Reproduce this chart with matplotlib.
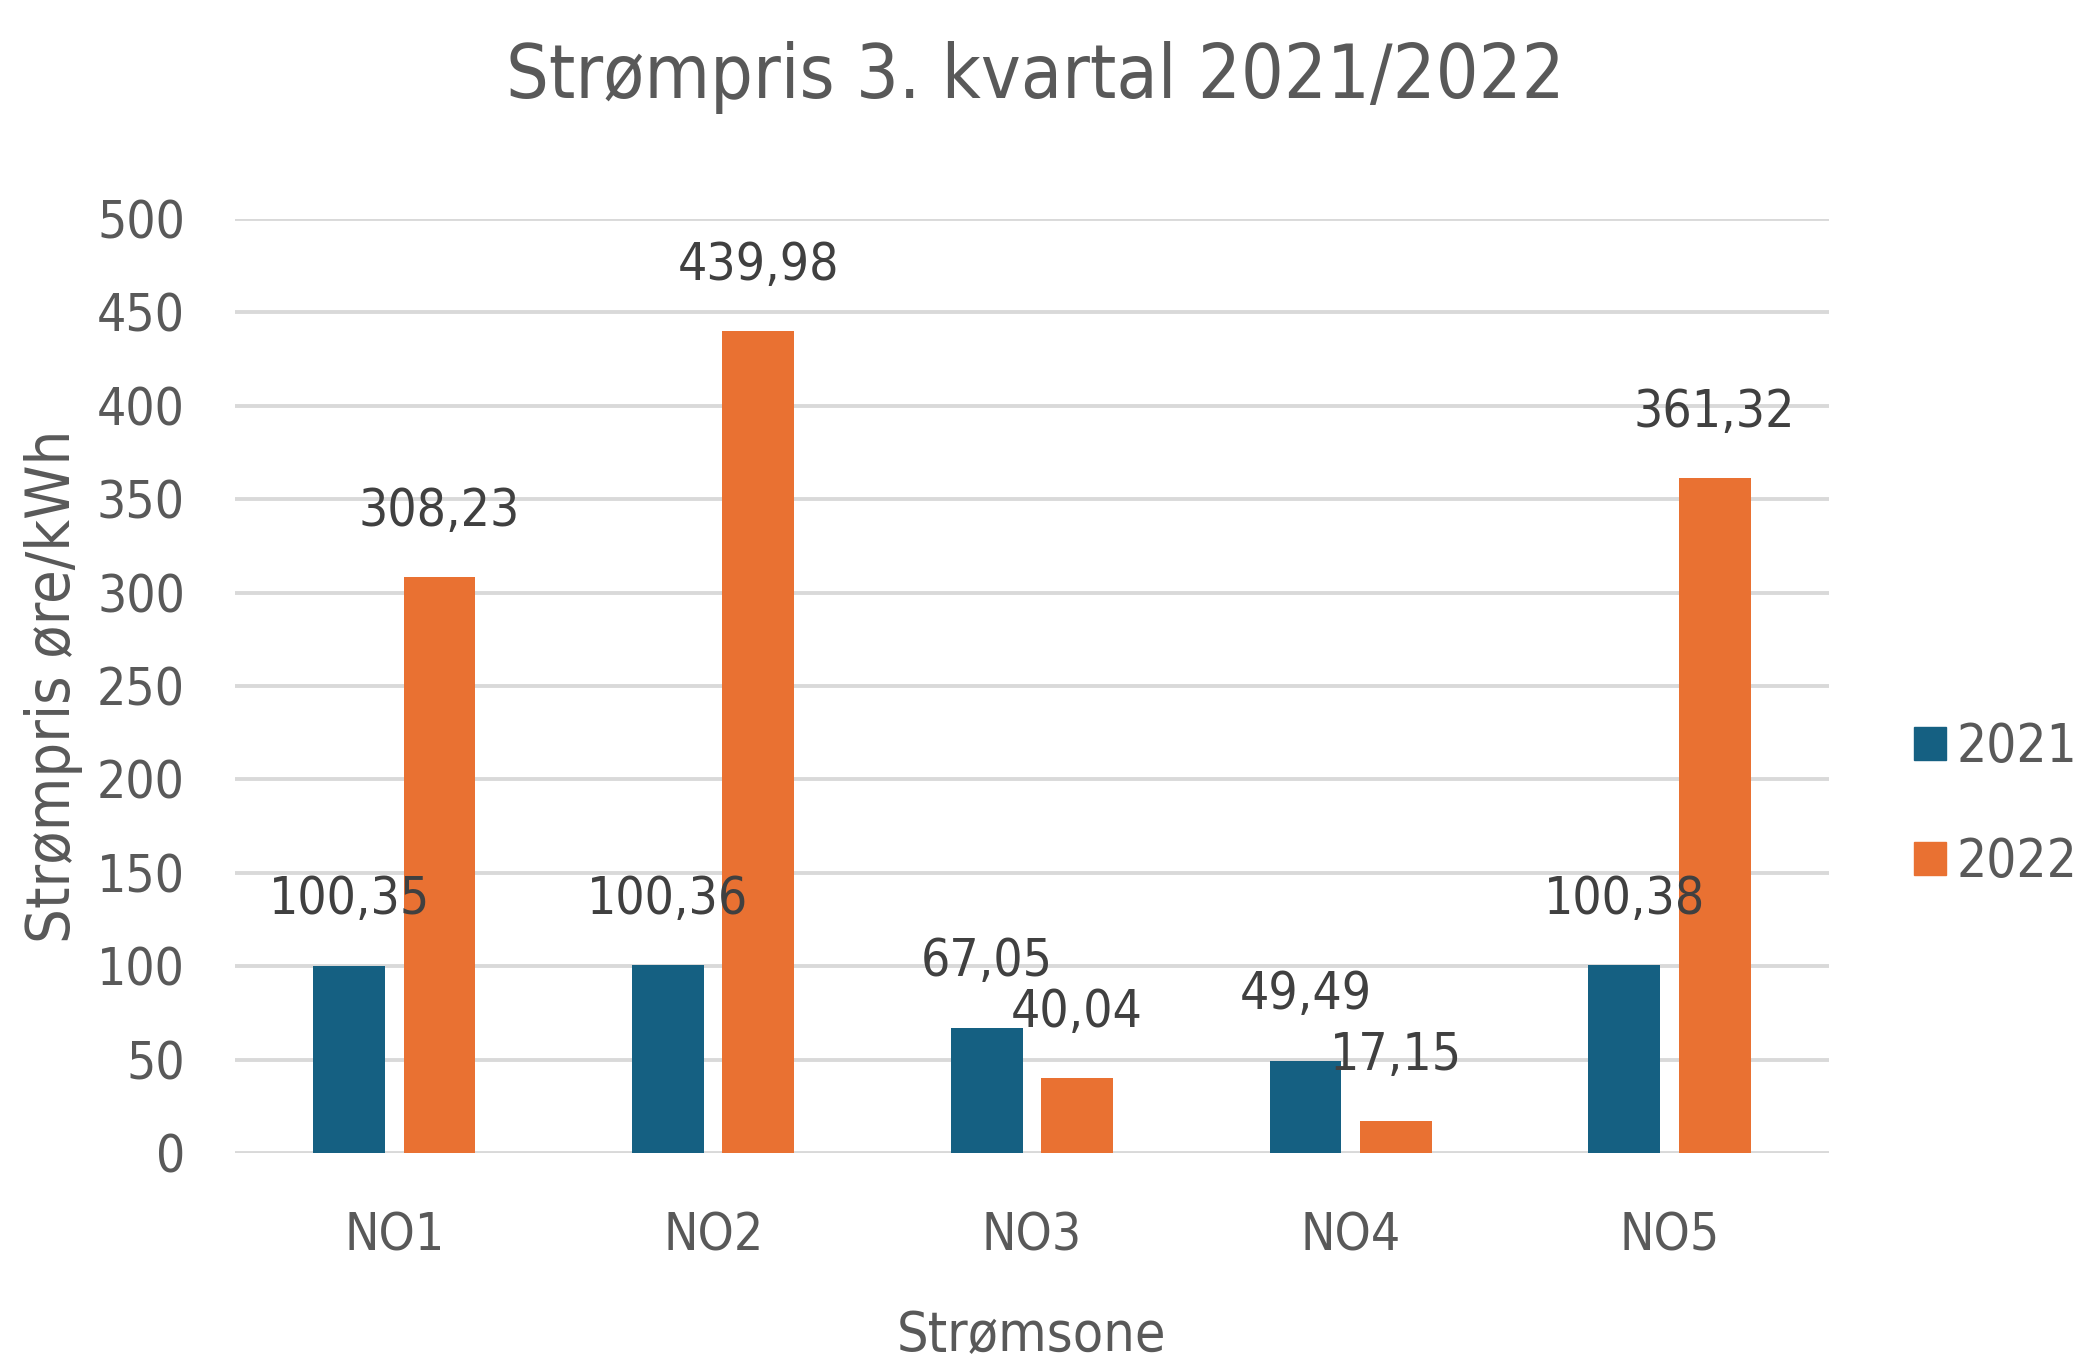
import matplotlib
matplotlib.use("Agg")
import matplotlib.pyplot as plt
import numpy as np
from matplotlib import font_manager
from matplotlib.patches import Patch

# pick the narrowest sans we have
fonts = font_manager.fontManager.ttflist
names = {f.name for f in fonts}
stretch = 'normal'
if 'Liberation Sans Narrow' in names:
    fam = 'Liberation Sans Narrow'
elif any(f.name == 'DejaVu Sans' and f.stretch == 'condensed' for f in fonts):
    fam = 'DejaVu Sans'
    stretch = 'condensed'
else:
    fam = 'Liberation Sans'
plt.rcParams['font.family'] = [fam, 'DejaVu Sans']
plt.rcParams['font.stretch'] = stretch

# ---- data ----
zones = ['NO1', 'NO2', 'NO3', 'NO4', 'NO5']
price_2021 = [100.35, 100.36, 67.05, 49.49, 100.38]
price_2022 = [308.23, 439.98, 40.04, 17.15, 361.32]
series_labels = ['2021', '2022']
colors = ['#156082', '#E97132']
text_col = '#595959'

fig = plt.figure(figsize=(20.83, 13.59), dpi=100)
ax = fig.add_axes([0.1128, 0.1516, 0.7652, 0.6873])

x = np.arange(len(zones))
w = 0.225
off = 0.1417
b1 = ax.bar(x - off, price_2021, w, color=colors[0], zorder=3)
b2 = ax.bar(x + off, price_2022, w, color=colors[1], zorder=3)

def fmt(v):
    return f"{v:.2f}".replace('.', ',')

for bars, vals in ((b1, price_2021), (b2, price_2022)):
    for r, v in zip(bars, vals):
        ax.annotate(fmt(v), (r.get_x() + r.get_width() / 2, v),
                    xytext=(0, 47), textcoords='offset points',
                    ha='center', va='center', fontsize=37, color='#404040', zorder=4)

ax.set_xlim(-0.5, 4.5)
ax.set_ylim(0, 500)
ax.set_yticks(range(0, 501, 50))
ax.set_xticks(x)
ax.set_xticklabels(zones)
ax.yaxis.grid(True, color='#D9D9D9', linewidth=2.8, zorder=0)
ax.tick_params(axis='both', length=0, labelsize=37, colors=text_col)
ax.tick_params(axis='y', pad=36)
ax.tick_params(axis='x', pad=42)
for s in ax.spines.values():
    s.set_visible(False)

ax.set_xlabel('Strømsone', fontsize=40, color=text_col, labelpad=34)
ax.set_ylabel('Strømpris øre/kWh', fontsize=44, color=text_col, labelpad=10)
fig.text(0.497, 0.943, 'Strømpris 3. kvartal 2021/2022', ha='center', va='center',
         fontsize=54, color=text_col)

handles = [Patch(color=c) for c in colors]
fig.legend(handles, series_labels, loc='center left', bbox_to_anchor=(0.896, 0.408),
           frameon=False, fontsize=38, handlelength=0.6, handleheight=0.6,
           handletextpad=0.2, labelspacing=1.2, labelcolor=text_col)

fig.savefig('out.png', dpi=100)
